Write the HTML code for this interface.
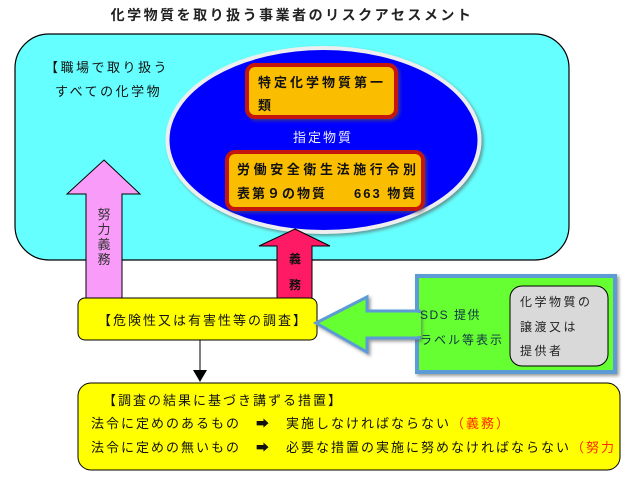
<!DOCTYPE html>
<html><head><meta charset="utf-8"><style>
html,body{margin:0;padding:0;background:#fff;}
svg text{font-family:"Liberation Sans","Noto Sans CJK JP",sans-serif;}
</style></head><body>
<svg width="624" height="476" viewBox="0 0 624 476" xmlns="http://www.w3.org/2000/svg">
<defs>
<filter id="sh" x="-10%" y="-10%" width="130%" height="130%"><feDropShadow dx="2" dy="2" stdDeviation="1.5" flood-color="#555" flood-opacity="0.6"/></filter>
</defs>
<text x="292" y="20" font-size="14" font-weight="bold" text-anchor="middle" letter-spacing="2.5" fill="#222">化学物質を取り扱う事業者のリスクアセスメント</text>
<rect x="15" y="34" width="554" height="226" rx="34" fill="#66ffff" stroke="#000" stroke-width="1.2"/>
<text x="45" y="72" font-size="13" letter-spacing="2.5" fill="#111">【職場で取り扱う</text>
<text x="55" y="96" font-size="13" letter-spacing="2.5" fill="#111">すべての化学物</text>
<ellipse cx="323.5" cy="140" rx="156" ry="92" fill="#0000ff" stroke="#eee" stroke-width="4" filter="url(#sh)"/>
<rect x="247" y="65" width="149" height="52" rx="8" fill="#fbbd06" stroke="#c4120a" stroke-width="4" filter="url(#sh)"/>
<text x="258" y="87" font-size="13" font-weight="bold" letter-spacing="3" fill="#111">特定化学物質第一</text>
<text x="258" y="110" font-size="13" font-weight="bold" fill="#111">類</text>
<text x="323" y="142" font-size="13" text-anchor="middle" letter-spacing="2" fill="#eef">指定物質</text>
<rect x="227" y="152" width="196" height="57" rx="8" fill="#fbbd06" stroke="#c4120a" stroke-width="4" filter="url(#sh)"/>
<text x="237" y="174" font-size="13" font-weight="bold" letter-spacing="3.6" fill="#111">労働安全衛生法施行令別</text>
<text x="237" y="198" font-size="13" font-weight="bold" letter-spacing="2" fill="#111">表第９の物質</text>
<text x="354" y="198" font-size="13" font-weight="bold" letter-spacing="2" fill="#111">663 物質</text>
<polygon points="104,160 140,194 122,194 122,300 86,300 86,194 67,194" fill="#f99cf9" stroke="#000" stroke-width="1"/>
<g font-size="13" fill="#333" text-anchor="middle"><text x="104" y="219">努</text><text x="104" y="234">力</text><text x="104" y="249">義</text><text x="104" y="264">務</text></g>
<polygon points="295,229 330,246 312,246 312,300 277,300 277,246 259,246" fill="#ff1a66" stroke="#000" stroke-width="1"/>
<g font-size="12" font-weight="bold" fill="#111" text-anchor="middle"><text x="295" y="263">義</text><text x="295" y="289">務</text></g>
<rect x="78" y="298" width="239" height="42" rx="7" fill="#ffff00" stroke="#000" stroke-width="1"/>
<text x="98" y="325" font-size="13" letter-spacing="2" fill="#111">【危険性又は有害性等の調査】</text>
<line x1="200" y1="340" x2="200" y2="372" stroke="#000" stroke-width="1"/>
<polygon points="193,370 207,370 200,382" fill="#000"/>
<rect x="417" y="276" width="198" height="96" fill="#66ff33" stroke="#5b9bd5" stroke-width="4" filter="url(#sh)"/>
<polygon points="316,323 367,297 367,311 419,311 419,338 367,338 367,352" fill="#66ff33" stroke="#5b9bd5" stroke-width="3" stroke-linejoin="miter" filter="url(#sh)"/>
<rect x="417" y="313" width="4" height="23" fill="#66ff33"/>
<text x="420" y="319" font-size="12" letter-spacing="1.5" fill="#134">SDS 提供</text>
<text x="420" y="344" font-size="12" letter-spacing="2" fill="#134">ラベル等表示</text>
<rect x="510" y="286" width="98" height="80" rx="12" fill="#d9d9d9" stroke="#000" stroke-width="1"/>
<text x="520" y="306" font-size="12" letter-spacing="2.5" fill="#222">化学物質の</text>
<text x="520" y="331" font-size="12" letter-spacing="2.5" fill="#222">譲渡又は</text>
<text x="520" y="355" font-size="12" letter-spacing="2.5" fill="#222">提供者</text>
<rect x="78" y="383" width="542" height="87" rx="13" fill="#ffff00" stroke="#000" stroke-width="1"/>
<text x="103" y="405" font-size="13" letter-spacing="2" fill="#111">【調査の結果に基づき講ずる措置】</text>
<text x="91" y="428" font-size="13" letter-spacing="2" fill="#111">法令に定めのあるもの　➡　実施しなければならない<tspan fill="#ff2a00">（義務）</tspan></text>
<text x="91" y="452" font-size="13" letter-spacing="2" fill="#111">法令に定めの無いもの　➡　必要な措置の実施に努めなければならない<tspan fill="#ff2a00">（努力</tspan></text>
</svg>
</body></html>
